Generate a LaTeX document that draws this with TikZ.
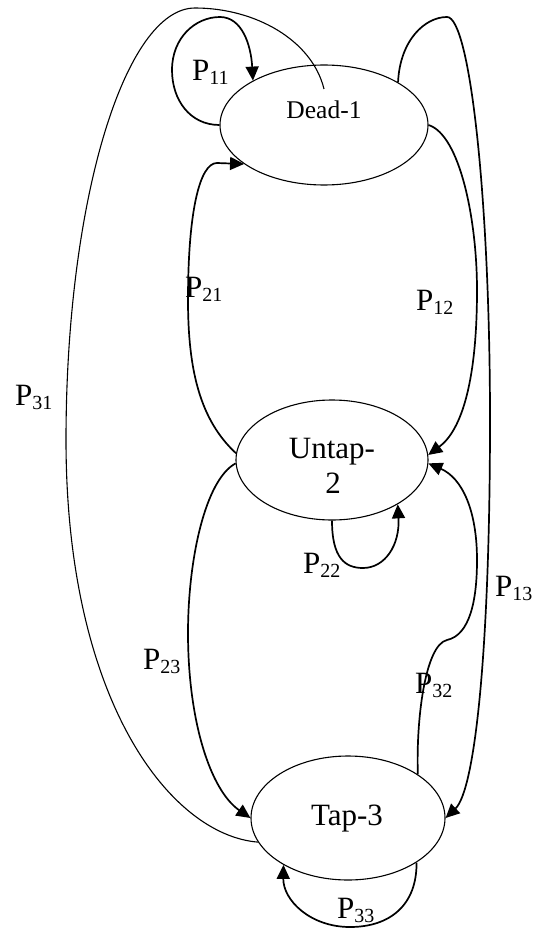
\documentclass[tikz,border=0pt]{standalone}
\usepackage{fontspec}
\setmainfont{Liberation Serif}
\usetikzlibrary{arrows.meta,shapes.geometric}
\newcommand\psub[1]{P\raisebox{-4pt}{\fontsize{20}{20}\selectfont #1}}
\begin{document}
\begin{tikzpicture}[x=1pt,y=-1pt,
  state/.style={draw, ellipse, line width=1.1pt, inner sep=0pt},
  edge/.style={line width=1.7pt, -{Triangle[length=14pt,width=13pt]}},
  plain/.style={line width=1.1pt},
  lab/.style={anchor=base west, inner sep=0pt, font=\fontsize{31}{31}\selectfont},
  stxt/.style={anchor=base, inner sep=0pt, font=\fontsize{31}{31}\selectfont}]
\fill[white] (0,0) rectangle (542,928);
\useasboundingbox (0,0) rectangle (542,928);
% states
\node[state, minimum width=208pt, minimum height=120pt] (d) at (324,125) {};
\node[state, minimum width=192pt, minimum height=120pt] (u) at (332,460) {};
\node[state, minimum width=194pt, minimum height=124pt] (t) at (348,818) {};
\node[stxt, font=\fontsize{25.5}{25.5}\selectfont] (dtx) at (324,119) {Dead-1};
\node[stxt] (utx) at (332,458) {Untap-};
\node[stxt] (utx2) at (333,493) {2};
\node[stxt] (ttx) at (347,825) {Tap-3};
\coordinate (p31e) at (324,89);
% P11
\draw[edge] (d.180) .. controls (190,125) and (172,100) .. (172,70)
  .. controls (172,38) and (195,17) .. (220,17)
  .. controls (242,17) and (251,45) .. (d.148);
% P31
\draw[plain] (t.195) .. controls (170,835) and (66,700) .. (66,440)
  .. controls (66,200) and (125,8) .. (195,8)
  .. controls (255,8) and (312,40) .. (p31e);
% P13
\draw[edge] (d.30) .. controls (400,40) and (425,17) .. (447,17)
  .. controls (470,17) and (490,200) .. (490,420)
  .. controls (490,650) and (475,790) .. (t.0);
% P12
\draw[edge] (d.0) .. controls (460,135) and (477,220) .. (477,290)
  .. controls (477,380) and (462,430) .. (u.3);
% P21
\draw[edge] (u.176) .. controls (200,420) and (188,370) .. (188,300)
  .. controls (188,210) and (200,163) .. (217,163) -- (d.206);
% P23
\draw[edge] (u.182) .. controls (205,480) and (188,560) .. (188,633)
  .. controls (188,720) and (210,790) .. (t.180);
% P22
\draw[edge] (u.270) .. controls (332,558) and (345,568) .. (363,568)
  .. controls (385,568) and (400,545) .. (u.326);
% P32
\draw[edge] (t.32) .. controls (416,720) and (425,645) .. (447,640)
  .. controls (470,635) and (477,600) .. (477,560)
  .. controls (477,510) and (462,478) .. (u.-2);
% P33
\draw[edge] (t.327) .. controls (417,905) and (390,927) .. (350,927)
  .. controls (310,927) and (283,900) .. (t.216.6);
% labels
\node[lab] (l11) at (192,81) {\psub{11}};
\node[lab] (l21) at (185,297) {\psub{21}};
\node[lab] (l12) at (416,310) {\psub{12}};
\node[lab] (l31) at (15,405) {\psub{31}};
\node[lab] (l22) at (303,573) {\psub{22}};
\node[lab] (l13) at (495,596) {\psub{13}};
\node[lab] (l32) at (415,693) {\psub{32}};
\node[lab] (l23) at (143,669) {\psub{23}};
\node[lab] (l33) at (337,918) {\psub{33}};
\end{tikzpicture}
\end{document}
